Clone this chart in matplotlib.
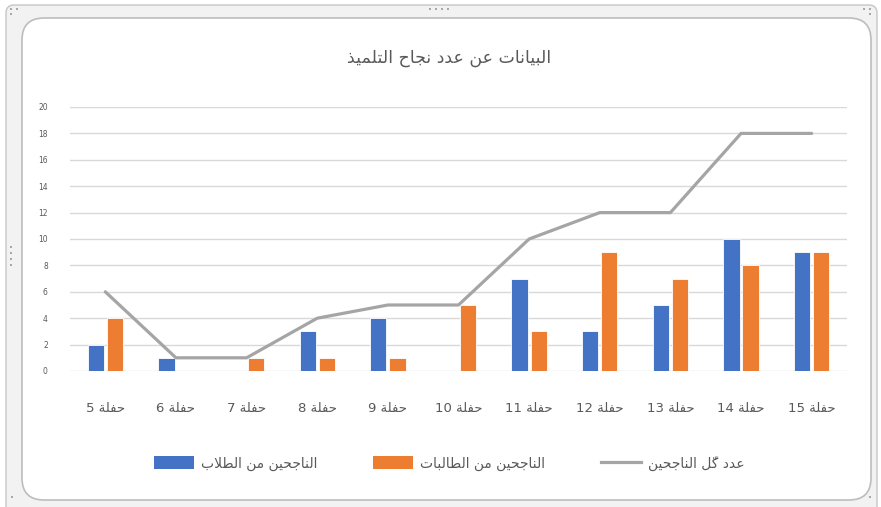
#!/usr/bin/env python3
import numpy as np
import matplotlib
matplotlib.use('Agg')
import matplotlib.pyplot as plt
from matplotlib.patches import FancyBboxPatch, Rectangle
from matplotlib.lines import Line2D

# Data
TITLE = 'البيانات عن عدد نجاح التلميذ'
CATEGORY_WORD = 'حفلة'
CATEGORY_NUMS = [5, 6, 7, 8, 9, 10, 11, 12, 13, 14, 15]
BOYS_LABEL = 'الناجحين من الطلاب'
GIRLS_LABEL = 'الناجحين من الطالبات'
TOTAL_LABEL = 'عدد كلّ الناجحين'
boys = [2, 1, 0, 3, 4, 0, 7, 3, 5, 10, 9]
girls = [4, 0, 1, 1, 1, 5, 3, 9, 7, 8, 9]
total = [6, 1, 1, 4, 5, 5, 10, 12, 12, 18, 18]
y_ticks = [0, 2, 4, 6, 8, 10, 12, 14, 16, 18, 20]

BLUE = '#4472C4'
ORANGE = '#ED7D31'
GRAY = '#A5A5A5'
TEXT = '#595959'

# Arabic presentation forms: isolated, final, initial, medial
FORMS = {
    'ا': (0xFE8D, 0xFE8E, None, None),
    'ب': (0xFE8F, 0xFE90, 0xFE91, 0xFE92),
    'ة': (0xFE93, 0xFE94, None, None),
    'ت': (0xFE95, 0xFE96, 0xFE97, 0xFE98),
    'ج': (0xFE9D, 0xFE9E, 0xFE9F, 0xFEA0),
    'ح': (0xFEA1, 0xFEA2, 0xFEA3, 0xFEA4),
    'د': (0xFEA9, 0xFEAA, None, None),
    'ذ': (0xFEAB, 0xFEAC, None, None),
    'ط': (0xFEC1, 0xFEC2, 0xFEC3, 0xFEC4),
    'ع': (0xFEC9, 0xFECA, 0xFECB, 0xFECC),
    'ف': (0xFED1, 0xFED2, 0xFED3, 0xFED4),
    'ك': (0xFED9, 0xFEDA, 0xFEDB, 0xFEDC),
    'ل': (0xFEDD, 0xFEDE, 0xFEDF, 0xFEE0),
    'م': (0xFEE1, 0xFEE2, 0xFEE3, 0xFEE4),
    'ن': (0xFEE5, 0xFEE6, 0xFEE7, 0xFEE8),
    'ي': (0xFEF1, 0xFEF2, 0xFEF3, 0xFEF4),
}
MARKS = '\u0651'


def shape_word(word):
    """Join the letters of one Arabic word and return it in visual order."""
    letters = []
    for ch in word:
        if ch in MARKS and letters:
            letters[-1][1] += ch
        else:
            letters.append([ch, ''])
    out = []
    prev_dual = False
    i = 0
    while i < len(letters):
        ch, mk = letters[i]
        if ch == 'ل' and i + 1 < len(letters) and letters[i + 1][0] == 'ا':
            out.append(chr(0xFEFC if prev_dual else 0xFEFB) + mk + letters[i + 1][1])
            prev_dual = False
            i += 2
            continue
        if ch not in FORMS:
            out.append(ch + mk)
            prev_dual = False
            i += 1
            continue
        iso, fin, ini, med = FORMS[ch]
        joins_next = ini is not None and i + 1 < len(letters) and letters[i + 1][0] in FORMS
        if prev_dual and joins_next:
            g = med
        elif prev_dual:
            g = fin
        elif joins_next:
            g = ini
        else:
            g = iso
        out.append(chr(g) + mk)
        prev_dual = ini is not None
        i += 1
    return ''.join(reversed(out))


def rtl(text):
    return ' '.join(shape_word(w) for w in reversed(text.split(' ')))


plt.rcParams['font.family'] = ['DejaVu Sans']

fig = plt.figure(figsize=(8.81, 5.07), dpi=100)

# window frame behind the chart (pixel coordinates)
bg = fig.add_axes([0, 0, 1, 1])
bg.set_xlim(0, 881)
bg.set_ylim(507, 0)
bg.axis('off')
bg.add_patch(FancyBboxPatch((6, 5), 871, 520, boxstyle='round,pad=0,rounding_size=8',
                            facecolor='#f2f2f2', edgecolor='#c6c6c6', lw=1.0))
bg.add_patch(FancyBboxPatch((22, 18), 849, 482, boxstyle='round,pad=0,rounding_size=22',
                            facecolor='white', edgecolor='#bdbdbd', lw=1.2))
for px, py in [(430, 9), (436, 9), (442, 9), (448, 9), (11, 9), (17, 9), (11, 14),
               (864, 9), (870, 9), (870, 14), (11, 247), (11, 253), (11, 259), (11, 265),
               (12, 497), (870, 497)]:
    bg.add_patch(Rectangle((px - 1.2, py - 1.2), 2.4, 2.4, facecolor='#a8a8a8', edgecolor='none'))

ax = fig.add_axes([70 / 881, 1 - 371 / 507, 777 / 881, 264 / 507])
ax.patch.set_alpha(0)

x = np.arange(len(CATEGORY_NUMS))
w = 0.23
ax.bar(x - 0.135, boys, w, color=BLUE, edgecolor='white', linewidth=0.6, zorder=2)
ax.bar(x + 0.135, girls, w, color=ORANGE, edgecolor='white', linewidth=0.6, zorder=2)
ax.plot(x, total, color=GRAY, lw=2.3, solid_joinstyle='round', solid_capstyle='round', zorder=3)

ax.set_xlim(-0.5, len(CATEGORY_NUMS) - 0.5)
ax.set_ylim(0, 20)
ax.set_yticks(y_ticks)
ax.set_yticklabels([str(t) for t in y_ticks], fontsize=5.5, color=TEXT)
ax.set_xticks(x)
ax.set_xticklabels([f'{n} ' + rtl(CATEGORY_WORD) for n in CATEGORY_NUMS], fontsize=9.5, color=TEXT)
ax.tick_params(axis='y', length=0, pad=16)
ax.tick_params(axis='x', length=0, pad=22)
ax.grid(axis='y', color='#d9d9d9', lw=1.0, zorder=0)
for s in ax.spines.values():
    s.set_visible(False)

fig.text(0.51, 1 - 58 / 507, rtl(TITLE), fontsize=12.5, color=TEXT, ha='center', va='center')

handles = [Rectangle((0, 0), 1, 1, facecolor=BLUE, edgecolor='none'),
           Rectangle((0, 0), 1, 1, facecolor=ORANGE, edgecolor='none'),
           Line2D([0], [0], color=GRAY, lw=2.3)]
labels = [rtl(BOYS_LABEL), rtl(GIRLS_LABEL), rtl(TOTAL_LABEL)]
fig.legend(handles, labels, loc='center', bbox_to_anchor=(0.51, 1 - 463 / 507), ncol=3,
           frameon=False, fontsize=10, labelcolor=TEXT, handlelength=2.9, handleheight=1.05,
           handletextpad=0.5, columnspacing=4.0)

fig.savefig('out.png', dpi=100)
